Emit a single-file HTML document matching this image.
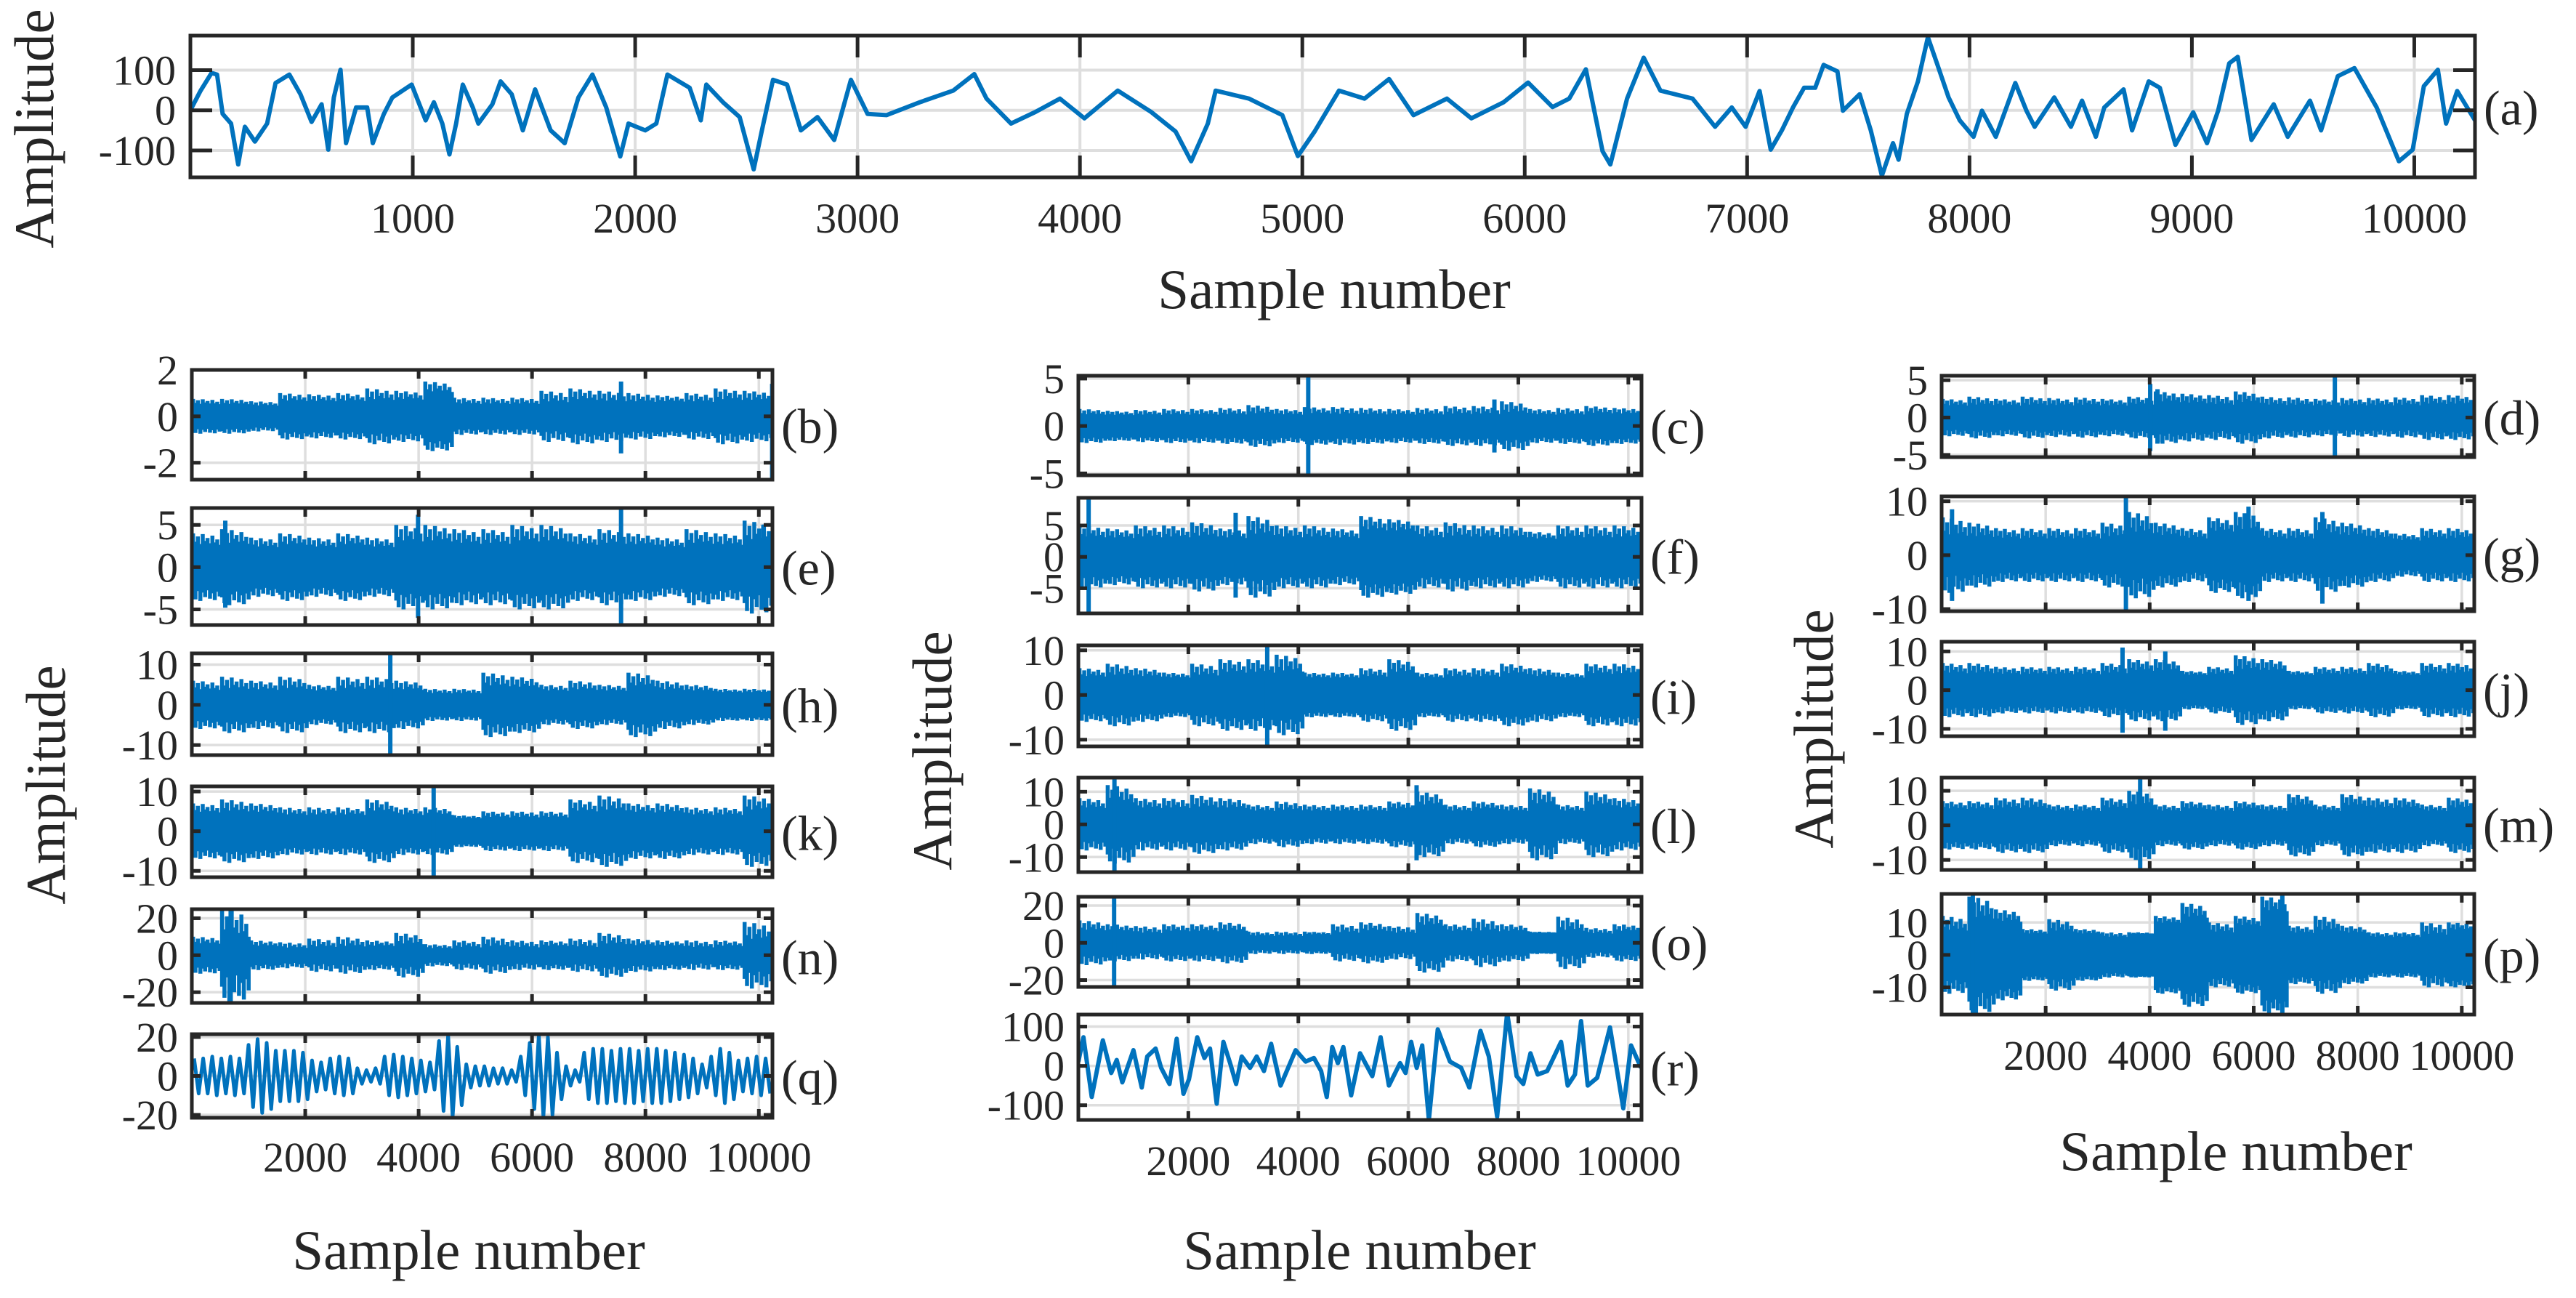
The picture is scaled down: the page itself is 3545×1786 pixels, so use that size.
<!DOCTYPE html>
<html>
<head>
<meta charset="utf-8">
<style>
html,body{margin:0;padding:0;background:#fff;}
svg{display:block;}
text{font-family:"Liberation Serif","Times New Roman",serif;fill:#262626;}
</style>
</head>
<body>
<svg id="fig" xmlns="http://www.w3.org/2000/svg" width="3545" height="1786" viewBox="0 0 3545 1786"></svg>
<script>
// ---------------- DATA ----------------
const aSamples = [0,45,95,120,145,183,215,245,290,345,383,445,495,545,590,620,645,675,700,745,795,820,870,908,995,1058,1095,1133,1165,1195,1225,1270,1295,1358,1395,1445,1495,1550,1620,1683,1745,1808,1870,1933,1970,2045,2095,2145,2245,2295,2320,2395,2470,2533,2570,2620,2683,2745,2820,2895,2970,3045,3130,3280,3430,3525,3580,3690,3800,3910,4020,4170,4320,4430,4500,4575,4610,4760,4910,4980,5055,5165,5280,5390,5500,5650,5760,5905,6015,6125,6200,6275,6350,6385,6460,6535,6610,6755,6856,6931,6993,7056,7106,7156,7206,7256,7306,7344,7406,7431,7506,7556,7606,7656,7681,7718,7768,7813,7856,7906,7956,8018,8056,8118,8206,8256,8293,8381,8456,8506,8568,8606,8693,8731,8806,8856,8926,9006,9068,9118,9168,9206,9268,9368,9431,9531,9581,9656,9731,9831,9931,9993,10043,10106,10143,10193,10273];
const aValues = [0,48,93,89,-9,-33,-135,-41,-78,-33,68,89,40,-29,15,-98,32,101,-82,7,7,-82,-9,32,64,-25,20,-33,-110,-33,64,7,-33,15,72,40,-50,52,-50,-82,32,89,7,-115,-33,-50,-33,89,56,-25,64,20,-17,-147,-50,76,64,-50,-17,-74,76,-9,-12,20,49,90,29,-33,-4,29,-20,49,-4,-53,-127,-33,49,29,-12,-114,-53,49,29,78,-12,29,-20,20,69,8,29,102,-102,-135,29,131,49,29,-41,7,-41,48,-98,-50,7,56,56,113,97,-1,40,-50,-163,-82,-123,-9,72,182,113,32,-25,-66,-1,-66,68,-1,-41,32,-41,24,-66,7,52,-50,72,56,-86,-5,-82,-1,117,133,-74,15,-66,24,-50,85,105,7,-127,-98,60,101,-33,48,-25];

const rSamples = [0,92,243,445,597,698,799,1001,1152,1253,1405,1505,1657,1788,1910,2011,2162,2293,2394,2516,2637,2768,2869,2970,3122,3243,3374,3505,3677,3950,4132,4284,4415,4516,4617,4718,4819,4960,5122,5344,5496,5647,5849,5950,6051,6152,6253,6374,6535,6757,6959,7110,7312,7464,7615,7797,7969,8090,8221,8352,8525,8777,8898,9030,9141,9262,9434,9666,9909,10050,10232];
const rValues = [11,73,-79,65,-18,15,-42,40,-55,24,44,-5,-46,69,-71,-34,73,20,44,-96,61,3,-46,24,-5,24,-13,56,-50,40,11,20,-13,-79,48,7,48,-75,32,-26,73,-50,7,-18,61,-5,52,-137,93,11,-5,-55,89,24,-129,135,-26,-46,32,-22,-13,61,-50,-22,114,-50,-30,98,-108,52,-5];

const qEnvelope = [9,9,10,9,10,9,16,19,17,13,13,13,12,8,7,9,10,9,4,3,4,10,11,10,9,8,7,18,21,15,6,5,5,4,4,3,10,17,21,20,12,5,3,12,14,14,13,14,14,13,14,14,13,12,11,9,6,10,14,12,8,9,10,9];

const coreB = [.45,.45,.4,.55,.55,.55,.55,.6,.9,.45,.45,.45,.45,.55,.5,.5,.55,.5,.55,.55];
const peakB = [.75,.75,.65,1.0,.95,1.0,1.2,1.1,1.5,.8,.8,.8,1.1,1.2,1.1,1.0,.9,1.0,1.2,1.1];
const spikeB = [[7570,1.5,-1.6],[10235,1.4,-2.73]];

const coreC = [1,1,1,1,1,1,1,1,1.1,1,1,1,1,1,1,1,1,1,1.1,1.1];
const peakC = [1.8,1.6,1.7,1.8,1.8,1.9,2.2,1.8,2.0,2.0,1.9,1.8,1.9,2.1,2.1,2.6,1.8,1.9,2.1,1.9];
const spikeC = [[4180,5.3,-5.2],[7565,2.8,-2.8]];

const coreD = [1.3,1.3,1.3,1.3,1.3,1.3,1.3,1.4,1.6,1.5,1.3,1.5,1.3,1.3,1.3,1.3,1.3,1.3,1.4,1.4];
const peakD = [2.5,2.8,2.5,2.8,2.6,2.7,2.5,2.8,3.5,3.2,3.0,3.5,2.8,2.7,2.5,2.6,2.6,2.7,3,3];
const spikeD = [[4010,4.5,-4.5],[4150,3.8,-3.5],[7560,5.6,-5.3]];

const coreE = [2.2,2.2,2.0,2.2,2.0,2.2,2.0,2.4,2.4,2.2,2.2,2.4,2.4,2.2,2.2,2.2,2.0,2.2,2.2,2.4];
const peakE = [4,4.5,3.5,4,3.5,4,3.5,5,5,4.5,4.5,5,5,4,4.5,4,3.5,4.5,4,5.5];
const spikeE = [[3990,6.2,-6],[7570,7,-6.85],[590,5.5,-4.8],[10080,5,-5]];

const coreF = [2.5,2.5,2.5,2.5,2.5,2.5,2.5,2.5,2.5,2.5,3.5,3.5,2.5,2.5,2.5,2.5,2.5,2.5,2.5,2.5];
const peakF = [5,4.5,5,5,5.5,4.5,6.5,5,5,4.5,6.5,6,5,5.5,5,5,4,5,5,5];
const spikeF = [[187,9.4,-9],[2860,7,-6.5]];

const coreG = [2.5,2.5,2.5,2.5,2.5,2.5,2.5,2.8,2.8,2.5,3.5,3.5,2.5,2.5,2.8,2.8,2.5,2.3,2.5,2.5];
const peakG = [7,6,5,5,5,5,6,8,6,5,7,8,5,5,7,6,5,4,5,5];
const spikeG = [[200,8.5,-8.5],[3543,10.9,-10.4],[5900,9,-8.5],[7320,8,-9]];

const coreH = [3,3,3,3,3,3,3,3,2.5,2.5,3.5,3.5,3,3,3,3.5,3,3,2.8,2.8];
const peakH = [6,7,6,7,5,7,7,6,4,4,8,7,5,6,5,8,6,5,4,4];
const spikeH = [[3500,12.8,-12.5]];

const coreI = [3.5,3.5,3.5,3.5,3.5,4,4,4,3.5,3.5,3.5,4,3.5,3.5,3.5,4,3.5,3.5,4,4];
const peakI = [6,7,6,5,7,8,8,9,5,5,6,8,5,6,6,7,6,5,7,7];
const spikeI = [[3434,10.9,-11.5]];

const coreJ = [3.5,3.5,3.5,3.5,3.5,3.5,3.5,4,4,3.5,3.5,4,4,3.5,3.5,3.5,3.5,3.5,3.5,3.5];
const peakJ = [7,7,6,6,6,6,7,8,8,5,6,9,8,5,6,6,7,5,7,7];
const spikeJ = [[3478,11,-11],[4300,10,-10.5]];

const coreK = [4,4,4,3.5,3.5,3.5,4,3.5,3.5,3,3,3,3,4,4,4,4,3.5,3.5,4];
const peakK = [7,8,7,6,6,6,8,6,6,4,5,5,5,8,9,7,7,6,6,9];
const spikeK = [[4265,11.3,-11.6]];

const coreL = [4,5,4,4,4,4,3.5,3.5,3.5,3.5,3.5,4,4.5,3.5,4,3.5,4.5,3.5,4.5,4];
const peakL = [8,12,8,8,9,8,6,7,6,6,6,7,10,6,7,6,11,6,10,8];
const spikeL = [[656,14.3,-14.6],[6150,12,-11]];

const coreM = [4,4,4,4,3.5,3.5,4,4.5,3.5,4,3.5,4,3.5,4.5,3.5,4.5,4,4,3.5,4];
const peakM = [7,7,8,8,6,6,8,10,6,7,6,7,6,9,6,9,8,8,6,8];
const spikeM = [[3817,13.8,-12.9]];

const coreN = [5,5,4,3,3,3,4,4,3,3,3,3,4,3,4,4,4,3,4,5];
const peakN = [10,25,8,7,9,10,8,12,6,8,10,8,8,9,12,9,8,8,8,18];
const spikeN = [[685,25,-25.8]];

const coreO = [5,5,4,5,5,5,3,3,4,4,5,4,7,5,4,5,5,4,4,5];
const peakO = [12,10,9,10,10,11,6,6,6,10,11,9,16,10,13,10,6,14,8,10];
const spikeO = [[650,24.7,-23.7]];

const coreP = [6,9,9,6,6,6,5,6,9,10,6,8,12,6,6,6,5,5,5,7];
const peakP = [12,18,14,8,11,8,7,7,12,16,10,12,18,9,12,9,7,7,10,10];
const spikeP = [[600,18.8,-18.4],[6550,18.8,-18.4]];

const ticksA = [-100,0,100];
const xTicksA = [1000,2000,3000,4000,5000,6000,7000,8000,9000,10000];
const xTicksSmall = [2000,4000,6000,8000,10000];

// ---------------- RENDER ----------------
const NS = "http://www.w3.org/2000/svg";
const svg = document.getElementById("fig");
const BLUE = "#0072BD", AX = "#262626", GRID = "#dedede";
function mk(tag, attrs, parent) {
  const e = document.createElementNS(NS, tag);
  for (const k in attrs) e.setAttribute(k, attrs[k]);
  (parent || svg).appendChild(e);
  return e;
}
function fmt(v){ return v < 0 ? "-" + Math.abs(v) : String(v); }

let clipId = 0;
function panel(name, L, yTicks, xTicks, showXLabels) {
  const g = mk("g", {});
  
  
  const sx = s => L.x0 + s / L.xmax * (L.x1 - L.x0);
  const sy = v => L.y0 + (L.ymax - v) / (L.ymax - L.ymin) * (L.y1 - L.y0);
  yTicks.forEach(t => {
    const ln = mk("line", {x1:L.x0, x2:L.x1, y1:sy(t), y2:sy(t), stroke:GRID, "stroke-width":L.gw}, g);
    
    
  });
  xTicks.forEach(t => {
    const ln = mk("line", {x1:sx(t), x2:sx(t), y1:L.y0, y2:L.y1, stroke:GRID, "stroke-width":L.gw}, g);
    
    
  });
  const cid = "clip" + (clipId++);
  const cp = mk("clipPath", {id:cid}, g);
  mk("rect", {x:L.x0, y:L.y0 - 2, width:L.x1 - L.x0, height:L.y1 - L.y0 + 4}, cp);
  const plot = mk("g", {"clip-path":"url(#" + cid + ")"}, g);
  
  
  yTicks.forEach(t => {
    const a = mk("line", {x1:L.x0, x2:L.x0 + L.tl, y1:sy(t), y2:sy(t), stroke:AX, "stroke-width":L.aw}, g);
    
    
    const b = mk("line", {x1:L.x1, x2:L.x1 - L.tl, y1:sy(t), y2:sy(t), stroke:AX, "stroke-width":L.aw}, g);
    
    
    const tx = mk("text", {x:L.x0 - L.lg, y:sy(t) + 20, "text-anchor":"end", "font-size":58}, g);
    tx.textContent = fmt(t);
    
    
  });
  xTicks.forEach(t => {
    const a = mk("line", {x1:sx(t), x2:sx(t), y1:L.y1, y2:L.y1 - L.tl, stroke:AX, "stroke-width":L.aw}, g);
    
    
    const b = mk("line", {x1:sx(t), x2:sx(t), y1:L.y0, y2:L.y0 + L.tl, stroke:AX, "stroke-width":L.aw}, g);
    
    
    if (showXLabels) {
      const tx = mk("text", {x:sx(t), y:L.xlb, "text-anchor":"middle", "font-size":58}, g);
      tx.textContent = String(t);
      
      
    }
  });
  return {g, plot, sx, sy, L};
}
function frame(P) {
  const L = P.L;
  const r = mk("rect", {x:L.x0, y:L.y0, width:L.x1 - L.x0, height:L.y1 - L.y0, fill:"none", stroke:AX, "stroke-width":L.aw}, P.g);
  
  
}
function tag(P, letter, dy) {
  const L = P.L;
  const t = mk("text", {x:L.x1 + 12, y:(L.y0 + L.y1) / 2 + (dy || 25), "font-size":68, fill:"#000"}, P.g);
  t.textContent = "(" + letter + ")";
  
  
}
function linePlot(P, xs, ys, w, name) {
  const pts = xs.map((s, i) => P.sx(s).toFixed(1) + "," + P.sy(ys[i]).toFixed(1)).join(" ");
  const pl = mk("polyline", {points:pts, fill:"none", stroke:BLUE, "stroke-width":w, "stroke-linejoin":"round"}, P.plot);
  
  
}
const wHi = [1, .45, .8, .3, .95, .5, .7, .35, .85, .4, .6, .25];
const wLo = [.6, .9, .35, 1, .45, .75, .3, .85, .5, .95, .4, .7];
function densePlot(P, core, peak, spikes, name) {
  const bin = 10240 / core.length;
  let top = [], bot = [];
  core.forEach((c, i) => {
    const cc = c * 1.1;
    top.push(P.sx(i * bin) + "," + P.sy(cc)); top.push(P.sx((i + 1) * bin) + "," + P.sy(cc));
    bot.push(P.sx(i * bin) + "," + P.sy(-cc)); bot.push(P.sx((i + 1) * bin) + "," + P.sy(-cc));
  });
  const poly = mk("polygon", {points:top.concat(bot.reverse()).join(" "), fill:BLUE}, P.plot);
  
  
  let d = "";
  const n = wHi.length;
  peak.forEach((p, i) => {
    const c = core[i];
    for (let k = 0; k < n; k++) {
      const s = i * bin + (k + 0.5) * bin / n;
      const hi = c + (p - c) * wHi[k], lo = -(c + (p - c) * wLo[k]);
      d += "M" + P.sx(s).toFixed(1) + " " + P.sy(hi).toFixed(1) + "V" + P.sy(lo).toFixed(1);
    }
  });
  const pk = mk("path", {d:d, stroke:BLUE, "stroke-width":5.5, fill:"none"}, P.plot);
  
  
  spikes.forEach(sp => {
    const ln = mk("line", {x1:P.sx(sp[0]), x2:P.sx(sp[0]), y1:P.sy(sp[1]), y2:P.sy(sp[2]), stroke:BLUE, "stroke-width":6}, P.plot);
    
    
  });
}
function textEl(str, attrs, name) {
  const t = mk("text", attrs);
  t.textContent = str;
  
  
  return t;
}

const PA = panel("panel-a", {x0:262, x1:3406, y0:49, y1:244, xmax:10273, ymin:-167, ymax:186, tl:30, lg:20, aw:5, gw:4, xlb:320}, ticksA, xTicksA, true);
linePlot(PA, aSamples, aValues, 6, "signal-a");
frame(PA); tag(PA, "a", 0);
textEl("Sample number", {x:1836, y:424, "text-anchor":"middle", "font-size":77}, "x-axis-title-a");
textEl("Amplitude", {x:0, y:0, transform:"translate(73,177) rotate(-90)", "text-anchor":"middle", "font-size":77}, "y-axis-title-a");

function small(name, x0, x1, y0, y1, ymin, ymax, ticks, xl, xlb) {
  return panel(name, {x0, x1, y0, y1, xmax:10240, ymin, ymax, tl:12, lg:19, aw:5, gw:3.5, xlb:xlb || 0}, ticks, xTicksSmall, xl);
}
const t5 = [-5,0,5], t10 = [-10,0,10], t20 = [-20,0,20], t100 = [-100,0,100], t2 = [-2,0,2];
const C1 = [264, 1063], C2 = [1484, 2259], C3 = [2672, 3405];
const defs = [
  ["b", C1, 509, 660, -2.73, 2, t2, coreB, peakB, spikeB],
  ["e", C1, 699, 860, -6.85, 7, t5, coreE, peakE, spikeE],
  ["h", C1, 899, 1039, -12.5, 12.8, t10, coreH, peakH, spikeH],
  ["k", C1, 1082, 1207, -11.6, 11.3, t10, coreK, peakK, spikeK],
  ["n", C1, 1251, 1380, -25.8, 24.9, t20, coreN, peakN, spikeN],
  ["c", C2, 517, 654, -5.2, 5.3, t5, coreC, peakC, spikeC],
  ["f", C2, 685, 844, -9, 9.4, t5, coreF, peakF, spikeF],
  ["i", C2, 888, 1027, -11.5, 11.1, t10, coreI, peakI, spikeI],
  ["l", C2, 1070, 1200, -14.6, 14.3, t10, coreL, peakL, spikeL],
  ["o", C2, 1234, 1358, -23.7, 24.7, t20, coreO, peakO, spikeO],
  ["d", C3, 517, 629, -5.3, 5.6, t5, coreD, peakD, spikeD],
  ["g", C3, 683, 841, -10.4, 10.9, t10, coreG, peakG, spikeG],
  ["j", C3, 883, 1013, -11.9, 12.5, t10, coreJ, peakJ, spikeJ],
  ["m", C3, 1070, 1197, -12.9, 13.8, t10, coreM, peakM, spikeM]
];
defs.forEach(d => {
  const P = small("panel-" + d[0], d[1][0], d[1][1], d[2], d[3], d[4], d[5], d[6], false);
  densePlot(P, d[7], d[8], d[9], "signal-" + d[0]);
  frame(P); tag(P, d[0]);
});
const PP = small("panel-p", C3[0], C3[1], 1230, 1396, -18.4, 18.8, t10, true, 1472);
densePlot(PP, coreP, peakP, spikeP, "signal-p");
frame(PP); tag(PP, "p");
const PQ = small("panel-q", C1[0], C1[1], 1423, 1538, -21.5, 21.5, t20, true, 1612);
const qS = [], qV = [];
qEnvelope.forEach((e, i) => { qS.push(i * 160 + 40); qV.push(e); qS.push(i * 160 + 120); qV.push(-e); });
linePlot(PQ, qS, qV, 5, "signal-q");
frame(PQ); tag(PQ, "q");
const PR = small("panel-r", C2[0], C2[1], 1396, 1541, -137.5, 130.6, t100, true, 1617);
linePlot(PR, rSamples, rValues, 6, "signal-r");
frame(PR); tag(PR, "r");

textEl("Sample number", {x:645, y:1746, "text-anchor":"middle", "font-size":77}, "x-axis-title-col1");
textEl("Sample number", {x:1871, y:1746, "text-anchor":"middle", "font-size":77}, "x-axis-title-col2");
textEl("Sample number", {x:3077, y:1610, "text-anchor":"middle", "font-size":77}, "x-axis-title-col3");
textEl("Amplitude", {x:0, y:0, transform:"translate(89,1080) rotate(-90)", "text-anchor":"middle", "font-size":77}, "y-axis-title-col1");
textEl("Amplitude", {x:0, y:0, transform:"translate(1309,1033) rotate(-90)", "text-anchor":"middle", "font-size":77}, "y-axis-title-col2");
textEl("Amplitude", {x:0, y:0, transform:"translate(2522,1003) rotate(-90)", "text-anchor":"middle", "font-size":77}, "y-axis-title-col3");
</script>
</body>
</html>
